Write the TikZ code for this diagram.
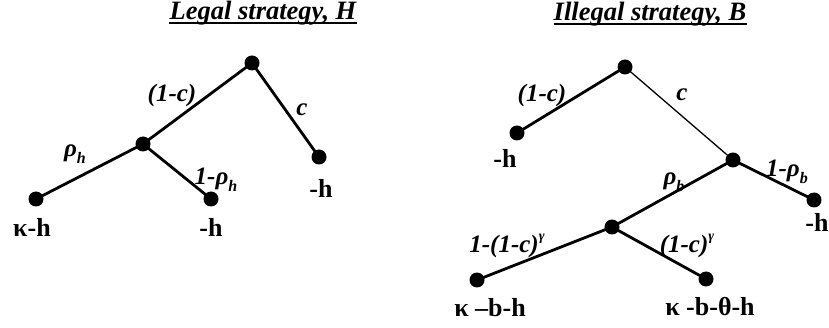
\documentclass[tikz,border=0pt]{standalone}
\usepackage{fontspec}
\setmainfont{Liberation Serif}
\newcommand{\mysub}[1]{\raisebox{-0.3em}{\fontsize{16}{16}\selectfont #1}}
\newcommand{\mysup}[1]{\raisebox{0.45em}{\fontsize{14}{14}\selectfont #1}}
\tikzset{
  dot/.style={circle,fill=black,inner sep=0pt,minimum size=15pt},
  br/.style={line width=2.8pt},
  thinbr/.style={line width=1.3pt},
  uline/.style={line width=1.4pt},
  ttl/.style={font=\fontsize{26.5}{30}\selectfont\bfseries\itshape,inner sep=0pt,anchor=base},
  elab/.style={font=\fontsize{25}{27}\selectfont\bfseries\itshape,inner sep=0pt},
  leaf/.style={font=\fontsize{26}{28}\selectfont\bfseries,inner sep=0pt}
}
\begin{document}
\begin{tikzpicture}[x=1pt,y=-1pt]
\useasboundingbox (0,0) rectangle (829,328);
% titles
\node[ttl] (t1) at (263,20) {Legal strategy, H};
\node[ttl] (t2) at (650,21) {Illegal strategy, B};
\draw[uline] ([yshift=-3pt]t1.base west) -- ([yshift=-3pt]t1.base east);
\draw[uline] ([yshift=-3pt]t2.base west) -- ([yshift=-3pt]t2.base east);
% left tree
\node[dot] (a0) at (252,63) {};
\node[dot] (a1) at (143,144) {};
\node[dot] (a2) at (319,157) {};
\node[dot] (a3) at (36,199) {};
\node[dot] (a4) at (211,199) {};
\draw[br] (a0.center) -- (a1.center);
\draw[br] (a0.center) -- (a2.center);
\draw[br] (a1.center) -- (a3.center);
\draw[br] (a1.center) -- (a4.center);
\node[elab] (la1) at (172,95) {(1-c)};
\node[elab] (la2) at (302,110) {c};
\node[elab] (la3) at (75,154) {ρ\mysub{h}};
\node[elab] (la4) at (216,180) {1-ρ\mysub{h}};
\node[leaf] (va2) at (321,188) {-h};
\node[leaf] (va3) at (32,227) {κ-h};
\node[leaf] (va4) at (211,227) {-h};
% right tree
\node[dot] (b0) at (625,67) {};
\node[dot] (b1) at (517,133) {};
\node[dot] (b2) at (733,160) {};
\node[dot] (b3) at (814,200) {};
\node[dot] (b4) at (612,227) {};
\node[dot] (b5) at (477,280) {};
\node[dot] (b6) at (706,279) {};
\draw[br] (b0.center) -- (b1.center);
\draw[thinbr] (b0.center) -- (b2.center);
\draw[br] (b2.center) -- (b3.center);
\draw[br] (b2.center) -- (b4.center);
\draw[br] (b4.center) -- (b5.center);
\draw[br] (b4.center) -- (b6.center);
\node[elab] (lb1) at (542,95) {(1-c)};
\node[elab] (lb2) at (682,95) {c};
\node[elab] (lb3) at (674,182) {ρ\mysub{b}};
\node[elab] (lb4) at (787,172) {1-ρ\mysub{b}};
\node[elab] (lb5) at (507,246) {1-(1-c)\mysup{γ}};
\node[elab] (lb6) at (687,246) {(1-c)\mysup{γ}};
\node[leaf] (vb1) at (505,158) {-h};
\node[leaf] (vb3) at (817,222) {-h};
\node[leaf] (vb5) at (490,308) {κ –b-h};
\node[leaf] (vb6) at (710,307) {κ -b-θ-h};
\end{tikzpicture}
\end{document}
